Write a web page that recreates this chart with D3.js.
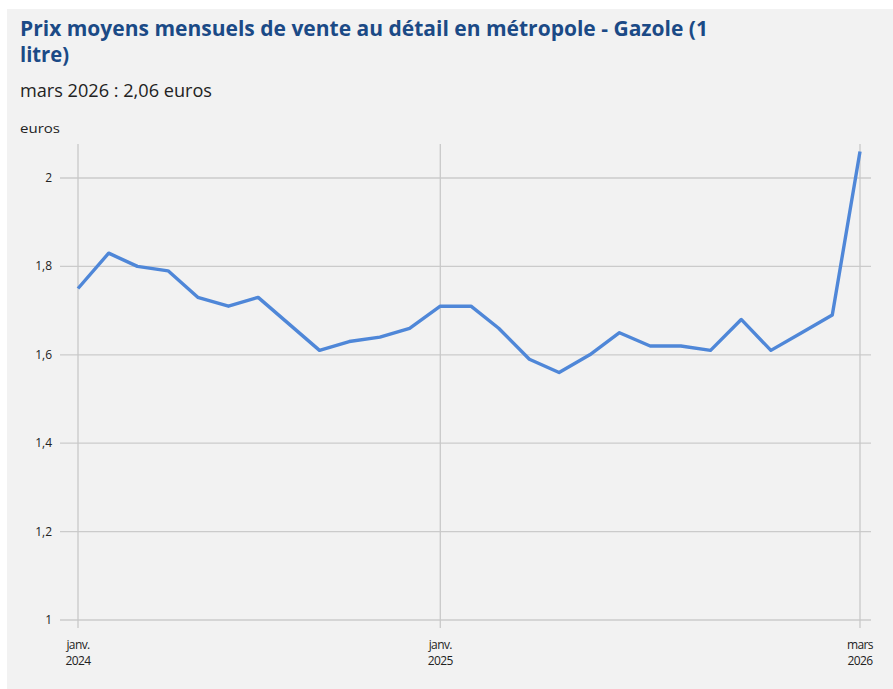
<!DOCTYPE html>
<html>
<head>
<meta charset="utf-8">
<script src="https://cdn.jsdelivr.net/npm/d3@7"></script>
<style>
  body { margin: 0; background: #fff; font-family: "Open Sans", sans-serif; }
  .panel { position: absolute; left: 7px; top: 9px; width: 886px; height: 680px; background: #f2f2f2; }
</style>
</head>
<body>
<div class="panel"></div>
<svg id="chart" width="893" height="689" style="position:absolute;left:0;top:0"></svg>
<script>
// monthly average diesel price, janv. 2024 -> mars 2026
const months = d3.timeMonths(new Date(2024, 0, 1), new Date(2026, 3, 1));
const prices = [
  1.75, 1.83, 1.80, 1.79, 1.73, 1.71, 1.73, 1.67, 1.61, 1.63, 1.64, 1.66,
  1.71, 1.71, 1.66, 1.59, 1.56, 1.60, 1.65, 1.62, 1.62, 1.61, 1.68, 1.61,
  1.65, 1.69, 2.06
];
const yTicks = [1, 1.2, 1.4, 1.6, 1.8, 2];
const xTicks = [new Date(2024, 0, 1), new Date(2025, 0, 1), new Date(2026, 2, 1)];
const xTickLabels = [["janv.", "2024"], ["janv.", "2025"], ["mars", "2026"]];

const data = months.map((m, i) => ({ date: m, value: prices[i] }));

const svg = d3.select("#chart");
const fr = d3.format(",.1f");

const x = d3.scaleTime()
    .domain([months[0], months[months.length - 1]])
    .range([78, 860]);
const y = d3.scaleLinear()
    .domain([1, 2])
    .range([620, 178]);

// titles, stretched to the reference widths
function fit(sel, w) {
    sel.attr("textLength", w).attr("lengthAdjust", "spacingAndGlyphs");
}

const title = svg.append("text")
    .attr("fill", "#1b4a86")
    .style("font-size", "20.5px")
    .style("font-weight", "bold");
title.append("tspan").attr("x", 20).attr("y", 36)
    .text("Prix moyens mensuels de vente au détail en métropole - Gazole (1")
    .call(fit, 688);
title.append("tspan").attr("x", 20).attr("y", 62).text("litre)")
    .call(fit, 49);

svg.append("text")
    .attr("x", 20).attr("y", 97)
    .attr("fill", "#222")
    .style("font-size", "17.5px")
    .text("mars 2026 : 2,06 euros")
    .call(fit, 192);

svg.append("text")
    .attr("x", 20).attr("y", 133)
    .attr("fill", "#222")
    .style("font-size", "13px")
    .text("euros")
    .call(fit, 40);

// horizontal grid + y labels
svg.append("g").selectAll("line")
    .data(yTicks)
    .join("line")
    .attr("x1", 60).attr("x2", 871)
    .attr("y1", d => y(d)).attr("y2", d => y(d))
    .attr("stroke", "#cbcbcb")
    .attr("stroke-width", 1.3);

svg.append("g").selectAll("text")
    .data(yTicks)
    .join("text")
    .attr("x", 52)
    .attr("y", d => y(d) + 4)
    .attr("text-anchor", "end")
    .attr("fill", "#222")
    .style("font-size", "12px")
    .text(d => fr(d).replace(".", ",").replace(",0", ""));

// vertical grid
svg.append("g").selectAll("line")
    .data(xTicks)
    .join("line")
    .attr("x1", d => x(d)).attr("x2", d => x(d))
    .attr("y1", 144).attr("y2", 628)
    .attr("stroke", "#c8c8c8")
    .attr("stroke-width", 1.3);

const xl = svg.append("g").selectAll("text")
    .data(xTicks)
    .join("text")
    .attr("text-anchor", "middle")
    .attr("fill", "#222")
    .style("font-size", "12px")
    .style("letter-spacing", "-0.6px");
xl.append("tspan")
    .attr("x", d => x(d)).attr("y", 649)
    .text((d, i) => xTickLabels[i][0]);
xl.append("tspan")
    .attr("x", d => x(d)).attr("y", 665)
    .text((d, i) => xTickLabels[i][1]);

// line
const line = d3.line()
    .x(d => x(d.date))
    .y(d => y(d.value));

svg.append("path")
    .datum(data)
    .attr("d", line)
    .attr("fill", "none")
    .attr("stroke", "#4f87d8")
    .attr("stroke-width", 3.4)
    .attr("stroke-linejoin", "round");
</script>
</body>
</html>
